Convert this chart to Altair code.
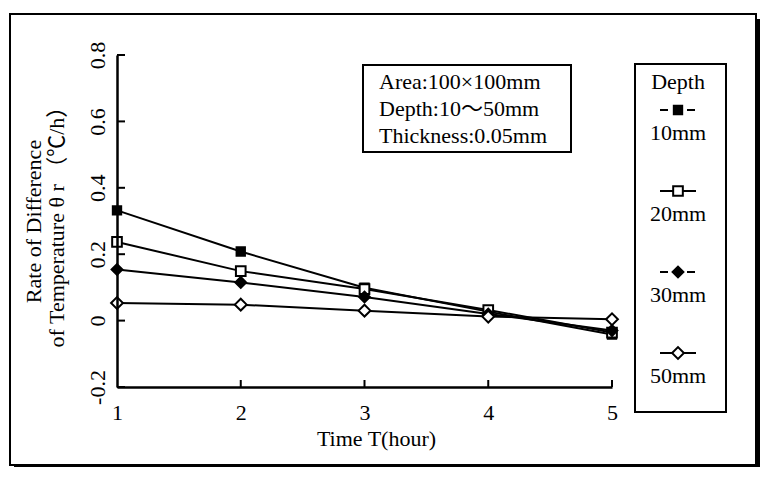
import altair as alt
import pandas as pd

# ---------------- data ----------------
times = [1, 2, 3, 4, 5]
depths = ["10mm", "20mm", "30mm", "50mm"]
rate_10 = [0.332, 0.208, 0.099, 0.027, -0.042]
rate_20 = [0.237, 0.149, 0.095, 0.032, -0.036]
rate_30 = [0.154, 0.115, 0.071, 0.020, -0.030]
rate_50 = [0.053, 0.048, 0.030, 0.012, 0.004]
y_ticks = [-0.2, 0, 0.2, 0.4, 0.6, 0.8]
x_ticks = [1, 2, 3, 4, 5]
info_lines = ["Area:100×100mm", "Depth:10～50mm", "Thickness:0.05mm"]
legend_title = "Depth"
x_title = "Time T(hour)"
y_title = ["Rate of Difference", "of Temperature θ r （℃/h）"]

rows = []
for d, vals in zip(depths, [rate_10, rate_20, rate_30, rate_50]):
    for t, v in zip(times, vals):
        rows.append({"time": t, "depth": d, "rate": v})
df = pd.DataFrame(rows)
ytick_df = pd.DataFrame({"rate": y_ticks})
xtick_df = pd.DataFrame({"time": x_ticks[1:]})
legend_df = pd.DataFrame({"depth": depths})
one = pd.DataFrame({"a": [0]})

FONT = "Liberation Serif, Noto Sans CJK JP"
FS = 22
W, H = 495, 332

shape_scale = alt.Scale(domain=depths, range=["square", "square", "diamond", "diamond"])
fill_scale = alt.Scale(domain=depths, range=["black", "white", "black", "white"])
size_scale = alt.Scale(domain=depths, range=[70, 140, 85, 270])
dash_scale = alt.Scale(domain=depths, range=[[8, 19], [1, 0], [8, 19], [1, 0]])

x_scale = alt.Scale(domain=[1, 5], nice=False, zero=False)
y_scale = alt.Scale(domain=[-0.2, 0.8], nice=False, zero=False)

x_axis = alt.Axis(values=x_ticks, format="d", ticks=False, grid=False, zindex=1,
                  domainColor="black", domainWidth=2.5, labelFlush=False,
                  labelFont=FONT, labelFontSize=FS, labelColor="black", labelPadding=15,
                  title=x_title, titleFont=FONT, titleFontSize=FS, titleColor="black",
                  titleFontWeight="normal", titlePadding=5, titleX=259)
y_axis = alt.Axis(values=y_ticks, labelExpr="'' + datum.value", ticks=False, grid=False, zindex=1,
                  domainColor="black", domainWidth=2.5, labelFlush=False,
                  labelAngle=270, labelAlign="center", labelBaseline="bottom",
                  labelFont=FONT, labelFontSize=FS, labelColor="black", labelPadding=8,
                  title=y_title, titleFont=FONT, titleFontSize=FS, titleColor="black",
                  titleFontWeight="normal", titlePadding=18, titleLineHeight=23)

X = alt.X("time:Q", scale=x_scale, axis=x_axis)
Y = alt.Y("rate:Q", scale=y_scale, axis=y_axis)

# ---------------- frame ----------------
shadow_b = alt.Chart(one).mark_rect(color="black").encode(
    x=alt.value(-103), x2=alt.value(660), y=alt.value(410), y2=alt.value(430))
shadow_r = alt.Chart(one).mark_rect(color="black").encode(
    x=alt.value(639), x2=alt.value(660), y=alt.value(-36), y2=alt.value(430))
frame = alt.Chart(one).mark_rect(fill="white", stroke="black", strokeWidth=2).encode(
    x=alt.value(-107), x2=alt.value(639), y=alt.value(-41), y2=alt.value(410))

# ---------------- ticks ----------------
yticks = alt.Chart(ytick_df).mark_rule(color="black", strokeWidth=2).encode(
    y=Y, x=alt.value(0), x2=alt.value(8))
xticks = alt.Chart(xtick_df).mark_rule(color="black", strokeWidth=2).encode(
    x=X, y=alt.value(H), y2=alt.value(H - 7))

# ---------------- series ----------------
lines = alt.Chart(df).mark_line(color="black", strokeWidth=2).encode(
    x=X, y=Y, detail="depth:N")
points = alt.Chart(df).mark_point(filled=True, stroke="black", strokeWidth=2, opacity=1).encode(
    x=X, y=Y,
    shape=alt.Shape("depth:N", scale=shape_scale, legend=None),
    fill=alt.Fill("depth:N", scale=fill_scale, legend=None),
    size=alt.Size("depth:N", scale=size_scale, legend=None),
)

# ---------------- info box ----------------
info_box = alt.Chart(one).mark_rect(fill="white", stroke="black", strokeWidth=2).encode(
    x=alt.value(246), x2=alt.value(454), y=alt.value(10), y2=alt.value(97))
info_texts = [
    alt.Chart(one).mark_text(text=t, font=FONT, fontSize=FS, align="left",
                             baseline="middle", color="black").encode(
        x=alt.value(262), y=alt.value(27 + 27 * i))
    for i, t in enumerate(info_lines)
]

# ---------------- legend ----------------
depth_list = "[" + ",".join("'" + d + "'" for d in depths) + "]"
leg_base = alt.Chart(legend_df).transform_calculate(
    idx=f"indexof({depth_list}, datum.depth)"
).transform_calculate(
    ly="55 + 81 * datum.idx", ty="78 + 81 * datum.idx"
)
leg_box = alt.Chart(one).mark_rect(fill="white", stroke="black", strokeWidth=2).encode(
    x=alt.value(518), x2=alt.value(609), y=alt.value(9), y2=alt.value(357))
leg_title = alt.Chart(one).mark_text(text=legend_title, font=FONT, fontSize=FS,
                                     align="center", baseline="middle", color="black").encode(
    x=alt.value(561), y=alt.value(27))
leg_rules = leg_base.mark_rule(color="black", strokeWidth=2).encode(
    x=alt.value(543), x2=alt.value(579),
    y=alt.Y("ly:Q", scale=None, axis=None, title=None),
    strokeDash=alt.StrokeDash("depth:N", scale=dash_scale, legend=None))
leg_points = leg_base.mark_point(filled=True, stroke="black", strokeWidth=2, opacity=1).encode(
    x=alt.value(561),
    y=alt.Y("ly:Q", scale=None, axis=None, title=None),
    shape=alt.Shape("depth:N", scale=shape_scale, legend=None),
    fill=alt.Fill("depth:N", scale=fill_scale, legend=None),
    size=alt.Size("depth:N", scale=size_scale, legend=None))
leg_labels = leg_base.mark_text(font=FONT, fontSize=FS, align="center",
                                baseline="middle", color="black").encode(
    x=alt.value(561),
    y=alt.Y("ty:Q", scale=None, axis=None, title=None),
    text="depth:N")

chart = alt.layer(
    shadow_b, shadow_r, frame, yticks, xticks, lines, points,
    info_box, *info_texts, leg_box, leg_title, leg_rules, leg_points, leg_labels
).properties(
    width=W, height=H,
    padding={"left": 109, "top": 47, "right": 148, "bottom": 80},
    autosize=alt.AutoSizeParams(type="none"),
).configure_view(stroke=None)

chart.save("out.html", embed_options={"renderer": "svg", "actions": False})
